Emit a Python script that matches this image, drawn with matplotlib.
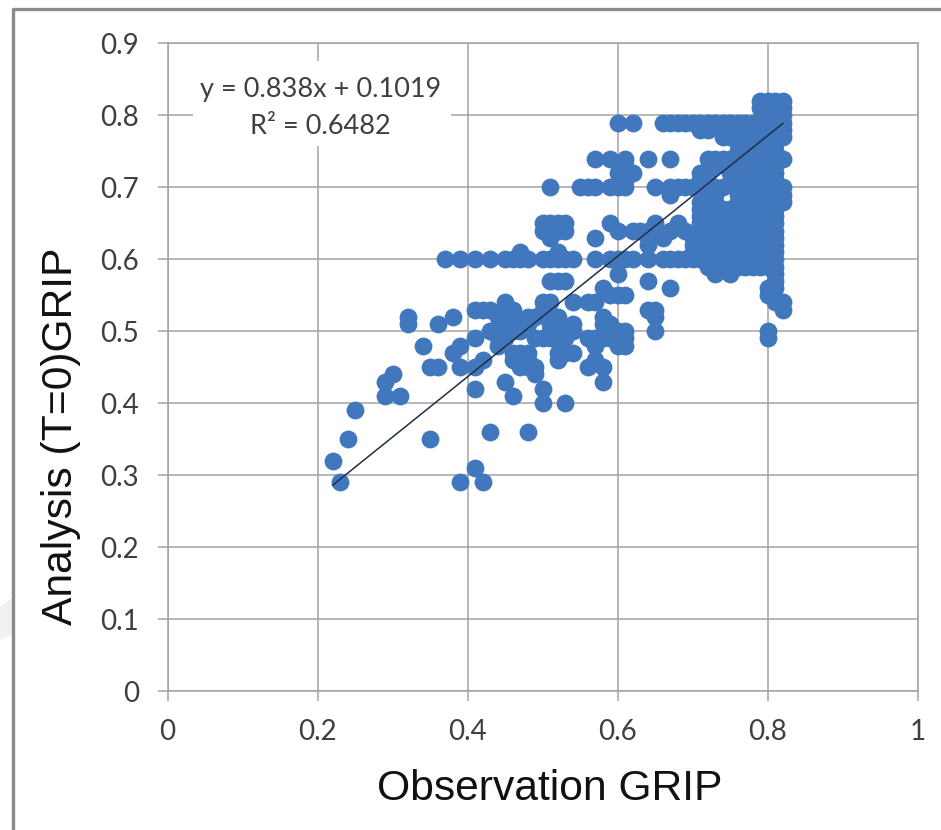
import matplotlib
matplotlib.use('Agg')
import matplotlib.pyplot as plt
from matplotlib.lines import Line2D
from matplotlib.patches import Polygon, Rectangle

# GRIP values, both axes in hundredths
# each entry of obs_rows holds the observations for the analysis value in ana_levels
ana_levels = [82, 81, 80, 79, 78, 77, 76, 75, 74, 73, 72, 71, 70, 69, 68, 67, 66, 65, 64, 63, 62, 61, 60,
              59, 58, 57, 56, 55, 54, 53, 52, 51, 50, 49, 48, 47, 46, 45, 44, 43, 42, 41, 40, 39, 36, 35, 32, 31, 29]
obs_rows = [
    [79, 80, 81, 82],
    [79, 80, 81, 82],
    [80, 81, 82],
    [60, 62, 66, 67, 68, 69, 70, 71, 72, 73, 74, 75, 76, 77, 78, 79, 80, 81, 82],
    [71, 72, 74, 75, 76, 77, 78, 79, 80, 81, 82],
    [74, 75, 76, 77, 78, 79, 80, 81, 82],
    [76, 77, 78, 79, 80, 81],
    [76, 77, 78, 79, 80, 81],
    [57, 59, 61, 64, 67, 72, 73, 74, 75, 76, 77, 78, 79, 80, 81, 82],
    [61, 73, 75, 76, 77, 78, 79, 80, 81],
    [60, 61, 62, 71, 72, 75, 76, 77, 78, 79, 80, 81],
    [61, 71, 76, 77, 78, 79, 80, 81],
    [51, 55, 56, 57, 59, 60, 61, 65, 67, 68, 69, 70, 71, 72, 73, 74, 76, 77, 78, 79, 80, 81, 82],
    [67, 72, 73, 76, 77, 78, 79, 80, 81, 82],
    [71, 72, 73, 76, 77, 78, 79, 80, 81, 82],
    [71, 72, 73, 74, 75, 76, 77, 78, 79, 80, 81],
    [71, 72, 73, 74, 75, 76, 77, 78, 79, 80, 81],
    [50, 51, 52, 53, 59, 65, 68, 71, 72, 73, 74, 75, 76, 77, 78, 79, 80, 81],
    [50, 51, 52, 53, 60, 62, 63, 64, 67, 69, 71, 72, 73, 74, 75, 76, 77, 78, 79, 80, 81],
    [51, 57, 64, 66, 70, 71, 72, 73, 74, 75, 76, 77, 78, 79, 80, 81],
    [64, 70, 71, 72, 73, 74, 75, 76, 77, 78, 79, 80, 81],
    [47, 52, 70, 71, 72, 73, 74, 75, 76, 77, 78, 79, 80, 81],
    [37, 39, 41, 43, 45, 46, 47, 48, 50, 51, 52, 53, 54, 57, 59, 60, 61, 62, 64, 66, 67, 68, 69, 70, 71, 72,
     73, 74, 75, 76, 77, 78, 79, 80, 81],
    [72, 73, 74, 75, 76, 77, 78, 79, 80, 81],
    [60, 73, 75, 81],
    [51, 52, 53, 64, 81],
    [58, 67, 80, 81],
    [59, 60, 61, 80],
    [45, 50, 51, 54, 56, 57, 81, 82],
    [41, 42, 43, 45, 46, 50, 64, 65, 82],
    [32, 38, 44, 45, 46, 48, 49, 52, 58, 65],
    [32, 36, 45, 47, 48, 51, 54, 58, 59],
    [43, 44, 45, 46, 47, 51, 52, 53, 54, 59, 60, 61, 65, 80],
    [41, 44, 45, 49, 50, 51, 52, 53, 56, 57, 58, 59, 60, 61, 80],
    [34, 39, 44, 57, 60, 61],
    [38, 46, 47, 48, 52, 53, 54],
    [42, 46, 47, 48, 52, 57],
    [35, 36, 39, 41, 47, 48, 49, 56, 58],
    [30, 49],
    [29, 45, 58],
    [41, 50],
    [29, 31, 46],
    [50, 53],
    [25],
    [43, 48],
    [24, 35],
    [22],
    [41],
    [23, 39, 42],
]

trend_x = [0.22, 0.82]
trend_y = [0.286, 0.789]

x_ticks = [0, 0.2, 0.4, 0.6, 0.8, 1]
x_tick_labels = ['0', '0.2', '0.4', '0.6', '0.8', '1']
y_ticks = [0, 0.1, 0.2, 0.3, 0.4, 0.5, 0.6, 0.7, 0.8, 0.9]
y_tick_labels = ['0', '0.1', '0.2', '0.3', '0.4', '0.5', '0.6', '0.7', '0.8', '0.9']

obs = []
ana = []
for level, row in zip(ana_levels, obs_rows):
    for value in row:
        obs.append(value / 100)
        ana.append(level / 100)

grid_col = '#a3a3a3'
text_col = '#3f3f3f'

fig = plt.figure(figsize=(9.41, 8.3), dpi=100, facecolor='white')
ax = fig.add_axes([167.5 / 941, 1 - 691 / 830, 750.5 / 941, 647.5 / 830])

# faint watermark and the grey picture border
fig.add_artist(Polygon([[0, 1 - 640 / 830], [12 / 941, 1 - 635 / 830], [12 / 941, 1 - 598 / 830], [0, 1 - 606 / 830]],
                       closed=True, transform=fig.transFigure, facecolor='#f1f1f1', edgecolor='none'))
fig.add_artist(Line2D([12.5 / 941, 12.5 / 941, 1], [0, 1 - 9.5 / 830, 1 - 9.5 / 830], transform=fig.transFigure,
                      color='#8a8a8a', lw=2.4))

ax.set_xlim(0, 1)
ax.set_ylim(0, 0.9)
ax.set_xticks(x_ticks)
ax.set_xticklabels(x_tick_labels, family='Lato', fontsize=20, color=text_col)
ax.set_yticks(y_ticks)
ax.set_yticklabels(y_tick_labels, family='Lato', fontsize=20, color=text_col)
ax.tick_params(axis='both', length=7.5, width=1.1, color=grid_col)
ax.tick_params(axis='x', pad=13)
ax.tick_params(axis='y', pad=13)
ax.grid(True, color=grid_col, lw=1.1, zorder=1)
ax.set_axisbelow(True)
for side in ['top', 'left', 'right', 'bottom']:
    ax.spines[side].set_color(grid_col)
    ax.spines[side].set_linewidth(1.1)

ax.scatter(obs, ana, s=165, color='#4178bd', linewidths=0, zorder=3, clip_on=False)
ax.plot(trend_x, trend_y, color='#1f2f45', lw=1.1, zorder=4)

# white box behind the trendline label
ax.add_patch(Rectangle((0.034, 0.758), 0.344, 0.118, facecolor='white', edgecolor='none', zorder=2))
ax.text(0.204, 0.836, 'y = 0.838x + 0.1019', family='Lato', fontsize=19.5, color=text_col,
        ha='center', va='center', zorder=5)
ax.text(0.204, 0.785, 'R² = 0.6482', family='Lato', fontsize=19.5, color=text_col,
        ha='center', va='center', zorder=5)

fig.text(550 / 941, 1 - 789 / 830, 'Observation GRIP', family='Liberation Sans', fontsize=30.7,
         color='#111111', ha='center', va='center')
fig.text(61 / 941, 1 - 436 / 830, 'Analysis (T=0)GRIP', family='Liberation Sans', fontsize=30.7,
         color='#111111', rotation=90, ha='center', va='center')

fig.savefig('out.png', dpi=100)
